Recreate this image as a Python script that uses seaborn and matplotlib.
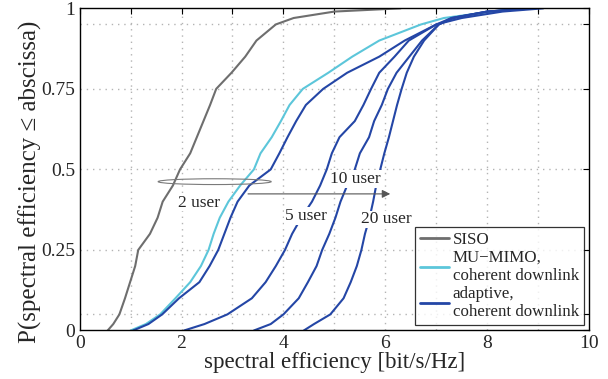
import numpy as np
import pandas as pd
import matplotlib
matplotlib.use("Agg")
import matplotlib.pyplot as plt
from matplotlib.patches import Ellipse
import seaborn as sns

# ---- data ----
prob = [0, 0.02, 0.05, 0.10, 0.15, 0.20, 0.25, 0.30, 0.35, 0.40, 0.45, 0.50,
        0.55, 0.60, 0.65, 0.70, 0.75, 0.80, 0.85, 0.90, 0.95, 0.97, 0.99, 1.0]

siso = [0.55, 0.66, 0.78, 0.89, 0.99, 1.09, 1.15, 1.38, 1.53, 1.63, 1.83, 1.97,
        2.17, 2.30, 2.43, 2.56, 2.68, 2.98, 3.25, 3.47, 3.85, 4.20, 5.00, 6.30]
mu_mimo = [1.00, 1.30, 1.58, 1.88, 2.17, 2.38, 2.53, 2.63, 2.75, 2.92, 3.15, 3.42,
           3.55, 3.77, 3.95, 4.12, 4.38, 4.88, 5.35, 5.88, 6.70, 7.15, 8.10, 8.65]
adapt_2 = [1.05, 1.35, 1.62, 1.95, 2.35, 2.55, 2.72, 2.84, 2.96, 3.10, 3.33, 3.75,
           3.92, 4.08, 4.25, 4.44, 4.78, 5.25, 5.88, 6.38, 7.00, 7.50, 8.30, 9.10]
adapt_5 = [2.05, 2.45, 2.90, 3.38, 3.65, 3.85, 4.03, 4.17, 4.35, 4.56, 4.72, 4.85,
           4.95, 5.10, 5.40, 5.57, 5.72, 5.88, 6.18, 6.46, 7.00, 7.30, 8.00, 8.90]
adapt_10 = [3.42, 3.75, 4.00, 4.30, 4.48, 4.65, 4.76, 4.90, 5.02, 5.12, 5.25, 5.40,
            5.50, 5.68, 5.78, 5.93, 6.05, 6.22, 6.47, 6.72, 7.05, 7.30, 8.00, 8.90]
adapt_20 = [4.40, 4.60, 4.92, 5.18, 5.32, 5.44, 5.53, 5.60, 5.69, 5.76, 5.82, 5.90,
            5.98, 6.07, 6.15, 6.23, 6.32, 6.42, 6.56, 6.76, 7.05, 7.35, 8.00, 8.90]

labels = ["SISO", "MU\u2212MIMO,\ncoherent downlink", "adaptive,\ncoherent downlink"]
x_ticks = list(range(0, 11))
x_ticklabels = ["0", "", "2", "", "4", "", "6", "", "8", "", "10"]
y_ticks = [0, 0.05, 0.25, 0.5, 0.75, 0.95, 1]
y_ticklabels = ["0", "", "0.25", "0.5", "0.75", "", "1"]
grid_x = [1, 2, 3, 4, 5, 6, 7, 8, 9]
grid_y = [0.05, 0.25, 0.5, 0.75, 0.95]

curves = [
    (siso, labels[0], "siso"),
    (mu_mimo, labels[1], "mu2"),
    (adapt_2, labels[2], "a2"),
    (adapt_5, labels[2], "a5"),
    (adapt_10, labels[2], "a10"),
    (adapt_20, labels[2], "a20"),
]
rows = []
for vals, lab, unit in curves:
    for xv, pv in zip(vals, prob):
        rows.append({"x": xv, "p": pv, "scheme": lab, "unit": unit})
df = pd.DataFrame(rows)

# ---- style ----
sns.set_style("white")
plt.rcParams["font.family"] = ["Liberation Serif", "DejaVu Serif"]
plt.rcParams["mathtext.fontset"] = "stix"

fig = plt.figure(figsize=(6.08, 3.79), dpi=100)
ax = fig.add_axes([0.131, 0.128, 0.838, 0.850])

for xv in grid_x:
    ax.axvline(xv, color="#b4b4b4", linestyle=(0, (1, 3.5)), linewidth=1.0, zorder=0.5)
for yv in grid_y:
    ax.axhline(yv, color="#b4b4b4", linestyle=(0, (1, 3.5)), linewidth=1.0, zorder=0.5)

palette = {labels[0]: "#6e6e6e", labels[1]: "#5cc6da", labels[2]: "#2446a6"}
sns.lineplot(data=df, x="x", y="p", hue="scheme", units="unit", estimator=None,
             sort=False, palette=palette, linewidth=1.5, ax=ax, legend=True, zorder=2)

ax.set_xlim(0, 10)
ax.set_ylim(0, 1)
ax.set_xticks(x_ticks)
ax.set_xticklabels(x_ticklabels)
ax.set_yticks(y_ticks)
ax.set_yticklabels(y_ticklabels)
ax.tick_params(direction="in", top=True, right=True, length=4.5, width=0.8,
               labelsize=14, pad=3, color="black")
for s in ax.spines.values():
    s.set_color("black")
    s.set_linewidth(1.0)

ax.set_xlabel("spectral efficiency [bit/s/Hz]", fontsize=16.5, labelpad=0)
ax.set_ylabel("P(spectral efficiency \u2264 abscissa)", fontsize=18, labelpad=4)
ax.yaxis.set_label_coords(-0.073, 0.46)

# annotations
ax.add_patch(Ellipse((2.65, 0.462), 2.22, 0.018, fill=False, edgecolor="#7a7a7a",
                     linewidth=0.8, zorder=5))
ax.annotate("", xy=(6.15, 0.424), xytext=(3.25, 0.424),
            arrowprops=dict(arrowstyle="-|>", color="#555555", lw=0.8,
                            mutation_scale=12), zorder=5)
tb = dict(facecolor="white", edgecolor="none", pad=0.5)
ax.text(2.35, 0.397, "2 user", fontsize=12.5, ha="center", va="center", bbox=tb, zorder=4)
ax.text(4.44, 0.355, "5 user", fontsize=12.5, ha="center", va="center", bbox=tb, zorder=4)
ax.text(5.42, 0.47, "10 user", fontsize=12.5, ha="center", va="center", bbox=tb, zorder=4)
ax.text(6.02, 0.345, "20 user", fontsize=12.5, ha="center", va="center", bbox=tb, zorder=4)

leg = ax.legend(loc="lower right", bbox_to_anchor=(0.99, 0.017), borderaxespad=0,
                fontsize=12.2, frameon=True, fancybox=False, handlelength=1.75,
                handletextpad=0.2, labelspacing=0.1, borderpad=0.3)
leg.get_frame().set_edgecolor("black")
leg.get_frame().set_linewidth(0.9)
leg.set_zorder(10)
for line in leg.get_lines():
    line.set_linewidth(2.0)

fig.savefig("out.png", dpi=100)
